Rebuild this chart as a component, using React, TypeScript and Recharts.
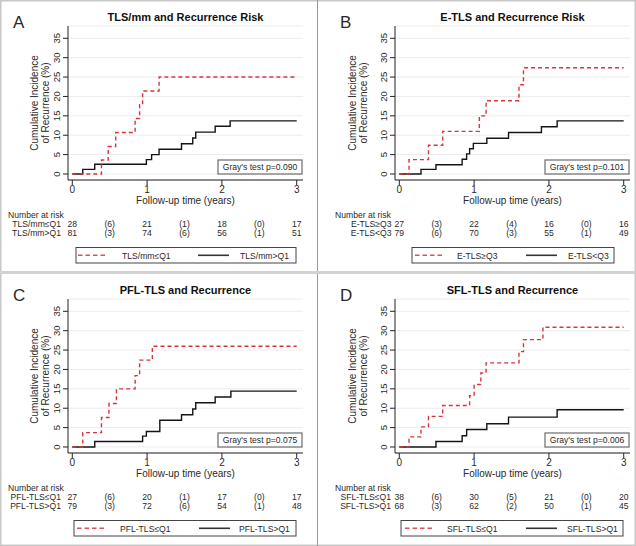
import React from 'react';
import { LineChart, Line, XAxis, YAxis, CartesianGrid } from 'recharts';

const FONT = '"Liberation Sans", Arial, Helvetica, sans-serif';
const X_TICKS = [0, 1, 2, 3];
const Y_TICKS = [0, 5, 10, 15, 20, 25, 30, 35];
const X_DOMAIN: [number, number] = [-0.0575, 3.084];
const Y_DOMAIN: [number, number] = [-1.55, 38.17];
const RISK_TIMES = [0, 0.5, 1, 1.5, 2, 2.5, 3];

// Panel A
const aTitle = 'TLS/mm and Recurrence Risk';
const aLowLabel = 'TLS/mm≤Q1';
const aHighLabel = 'TLS/mm>Q1';
const aLowT = [0, 0.39, 0.48, 0.58, 0.84, 0.9, 0.94, 1.16, 3];
const aLowCI = [0, 3.6, 7.1, 10.7, 14.3, 17.9, 21.4, 25.0, 25.0];
const aHighT = [0, 0.14, 0.3, 0.99, 1.06, 1.16, 1.46, 1.61, 1.65, 1.91, 2.11, 3];
const aHighCI = [0, 1.2, 2.5, 3.7, 5.0, 6.4, 7.8, 9.3, 10.8, 12.3, 13.7, 13.7];
const aLowRisk = ['28', '(6)', '21', '(1)', '18', '(0)', '17'];
const aHighRisk = ['81', '(3)', '74', '(6)', '56', '(1)', '51'];
const aP = "Gray's test p=0.090";

// Panel B
const bTitle = 'E-TLS and Recurrence Risk';
const bHighLabel = 'E-TLS≥Q3';
const bLowLabel = 'E-TLS<Q3';
const bHighT = [0, 0.13, 0.39, 0.58, 1.07, 1.16, 1.6, 1.66, 3];
const bHighCI = [0, 3.7, 7.4, 11.0, 15.0, 18.9, 23.0, 27.4, 27.4];
const bLowT = [0, 0.29, 0.49, 0.84, 0.9, 0.94, 0.99, 1.17, 1.46, 1.9, 2.11, 3];
const bLowCI = [0, 1.2, 2.4, 3.8, 5.2, 6.5, 7.9, 9.2, 10.7, 12.2, 13.7, 13.7];
const bHighRisk = ['27', '(3)', '22', '(4)', '16', '(0)', '16'];
const bLowRisk = ['79', '(6)', '70', '(3)', '55', '(1)', '49'];
const bP = "Gray's test p=0.101";

// Panel C
const cTitle = 'PFL-TLS and Recurrence';
const cLowLabel = 'PFL-TLS≤Q1';
const cHighLabel = 'PFL-TLS>Q1';
const cLowT = [0, 0.14, 0.39, 0.49, 0.59, 0.84, 0.9, 1.07, 3];
const cLowCI = [0, 3.7, 7.6, 11.2, 15.0, 18.4, 22.4, 26.0, 26.0];
const cHighT = [0, 0.3, 0.94, 0.99, 1.17, 1.46, 1.61, 1.65, 1.91, 2.12, 3];
const cHighCI = [0, 1.4, 2.8, 4.0, 6.9, 8.3, 9.8, 11.4, 12.9, 14.4, 14.4];
const cLowRisk = ['27', '(6)', '20', '(1)', '17', '(0)', '17'];
const cHighRisk = ['79', '(3)', '72', '(6)', '54', '(1)', '48'];
const cP = "Gray's test p=0.075";

// Panel D
const dTitle = 'SFL-TLS and Recurrence';
const dLowLabel = 'SFL-TLS≤Q1';
const dHighLabel = 'SFL-TLS>Q1';
const dLowT = [0, 0.13, 0.29, 0.39, 0.58, 0.94, 1.0, 1.09, 1.16, 1.6, 1.66, 1.92, 3];
const dLowCI = [0, 2.6, 5.2, 7.9, 10.7, 13.2, 16.1, 19.1, 21.7, 24.6, 27.7, 30.9, 30.9];
const dHighT = [0, 0.49, 0.84, 0.9, 1.17, 1.46, 2.11, 3];
const dHighCI = [0, 1.4, 2.9, 4.5, 6.0, 7.7, 9.6, 9.6];
const dLowRisk = ['38', '(6)', '30', '(5)', '21', '(0)', '20'];
const dHighRisk = ['68', '(3)', '62', '(2)', '50', '(1)', '45'];
const dP = "Gray's test p=0.006";

const RED = '#d7353f';
const BLACK = '#141414';
const TXT = '#2a2a2a';
const PW = 318;
const PH = 273;
const PLOT_W = 235;
const PLOT_TOP = 26;
const PLOT_BOTTOM = 180;
const SMALL = 8.6;

const zip = (t: number[], v: number[]) => t.map((x, i) => ({ t: x, ci: v[i] }));

const RotTick = (props: any) => {
  const { x, y, payload } = props;
  return (
    <text x={x} y={y} transform={`rotate(-90 ${x} ${y})`} textAnchor="middle" fontSize={9.5} fill={TXT} fontFamily={FONT}>
      {payload.value}
    </text>
  );
};

type PanelProps = {
  ox: number; oy: number; left: number; letter: string; letterX: number; title: string;
  redData: { t: number; ci: number }[]; blackData: { t: number; ci: number }[];
  redLabel: string; blackLabel: string; redRisk: string[]; blackRisk: string[]; p: string;
  nrX: number; labEnd: number;
  leg: { box: number; w: number; s1: number; t1: number; s2: number; t2: number };
};

const Panel = (pp: PanelProps) => {
  const right = pp.left + PLOT_W;
  const cx = (pp.left + right) / 2;
  const xs = (t: number) => pp.left + ((t - X_DOMAIN[0]) / (X_DOMAIN[1] - X_DOMAIN[0])) * PLOT_W;
  const yMid = (PLOT_TOP + PLOT_BOTTOM) / 2;
  return (
    <div style={{ position: 'absolute', left: pp.ox, top: pp.oy, width: PW, height: PH }}>
      <LineChart width={PW} height={PH} margin={{ top: PLOT_TOP, right: PW - right, bottom: PH - PLOT_BOTTOM - 30, left: pp.left - 60 }}>
        <CartesianGrid horizontal vertical={false} stroke="#ececec" strokeWidth={1} />
        <XAxis type="number" dataKey="t" domain={X_DOMAIN} ticks={X_TICKS} allowDataOverflow height={30} interval={0}
          tickSize={5} tickMargin={1} stroke="#222" tick={{ fontSize: 10, fill: TXT, fontFamily: FONT }} />
        <YAxis type="number" domain={Y_DOMAIN} ticks={Y_TICKS} allowDataOverflow width={60} interval={0}
          tickSize={5} tickMargin={3} stroke="#222" tick={<RotTick />} />
        <Line data={pp.blackData} dataKey="ci" type="stepAfter" stroke={BLACK} strokeWidth={1.4} dot={false} isAnimationActive={false} />
        <Line data={pp.redData} dataKey="ci" type="stepAfter" stroke={RED} strokeWidth={1.4} strokeDasharray="4 3" dot={false} isAnimationActive={false} />
      </LineChart>
      <svg width={PW} height={PH} style={{ position: 'absolute', left: 0, top: 0, pointerEvents: 'none' }} fontFamily={FONT}>
        <text x={pp.letterX} y={27.5} fontSize={17} fill={TXT}>{pp.letter}</text>
        <text x={cx} y={20.5} textAnchor="middle" fontSize={11} fontWeight="bold" fill="#111">{pp.title}</text>
        <text x={38} y={yMid} transform={`rotate(-90 38 ${yMid})`} textAnchor="middle" fontSize={10} fill={TXT}>Cumulative Incidence</text>
        <text x={48.5} y={yMid} transform={`rotate(-90 48.5 ${yMid})`} textAnchor="middle" fontSize={10} fill={TXT}>of Recurrence (%)</text>
        <text x={cx} y={203.5} textAnchor="middle" fontSize={10} fill={TXT}>Follow-up time (years)</text>
        <rect x={right - 85} y={160} width={84} height={14} fill="#fff" stroke="#777" strokeWidth={1.3} />
        <text x={right - 43} y={170.3} textAnchor="middle" fontSize={SMALL} fill={TXT}>{pp.p}</text>
        <text x={pp.nrX} y={218} fontSize={SMALL} fill={TXT}>Number at risk</text>
        <text x={pp.labEnd} y={227} textAnchor="end" fontSize={SMALL} fill={TXT}>{pp.redLabel}</text>
        <text x={pp.labEnd} y={236} textAnchor="end" fontSize={SMALL} fill={TXT}>{pp.blackLabel}</text>
        {RISK_TIMES.map((t, i) => (
          <text key={'r' + i} x={xs(t)} y={227} textAnchor="middle" fontSize={SMALL} fill={TXT}>{pp.redRisk[i]}</text>
        ))}
        {RISK_TIMES.map((t, i) => (
          <text key={'b' + i} x={xs(t)} y={236} textAnchor="middle" fontSize={SMALL} fill={TXT}>{pp.blackRisk[i]}</text>
        ))}
        <rect x={pp.leg.box} y={247.5} width={pp.leg.w} height={15.5} fill="#fff" stroke="#444" strokeWidth={1} />
        <line x1={pp.leg.s1} x2={pp.leg.s1 + 29} y1={255.3} y2={255.3} stroke={RED} strokeWidth={1.6} strokeDasharray="4.5 3" opacity={0.85} />
        <text x={pp.leg.t1} y={258.5} fontSize={SMALL} fill={TXT}>{pp.redLabel}</text>
        <line x1={pp.leg.s2} x2={pp.leg.s2 + 31} y1={255.3} y2={255.3} stroke="#333" strokeWidth={1.6} />
        <text x={pp.leg.t2} y={258.5} fontSize={SMALL} fill={TXT}>{pp.blackLabel}</text>
      </svg>
    </div>
  );
};

export default function App() {
  return (
    <div style={{ position: 'absolute', left: 0, top: 0, width: 636, height: 546, background: '#fff', overflow: 'hidden' }}>
      <Panel ox={0} oy={0} left={68} letter="A" letterX={13} title={aTitle}
        redData={zip(aLowT, aLowCI)} blackData={zip(aHighT, aHighCI)} redLabel={aLowLabel} blackLabel={aHighLabel}
        redRisk={aLowRisk} blackRisk={aHighRisk} p={aP} nrX={8} labEnd={61}
        leg={{ box: 76, w: 220, s1: 78, t1: 122, s2: 198, t2: 240 }} />
      <Panel ox={318} oy={0} left={77} letter="B" letterX={22} title={bTitle}
        redData={zip(bHighT, bHighCI)} blackData={zip(bLowT, bLowCI)} redLabel={bHighLabel} blackLabel={bLowLabel}
        redRisk={bHighRisk} blackRisk={bLowRisk} p={bP} nrX={17} labEnd={73.5}
        leg={{ box: 94, w: 202, s1: 97, t1: 139, s2: 208, t2: 250 }} />
      <Panel ox={0} oy={273} left={68} letter="C" letterX={13} title={cTitle}
        redData={zip(cLowT, cLowCI)} blackData={zip(cHighT, cHighCI)} redLabel={cLowLabel} blackLabel={cHighLabel}
        redRisk={cLowRisk} blackRisk={cHighRisk} p={cP} nrX={8} labEnd={61}
        leg={{ box: 74, w: 222, s1: 77, t1: 120, s2: 199, t2: 239 }} />
      <Panel ox={318} oy={273} left={77} letter="D" letterX={22} title={dTitle}
        redData={zip(dLowT, dLowCI)} blackData={zip(dHighT, dHighCI)} redLabel={dLowLabel} blackLabel={dHighLabel}
        redRisk={dLowRisk} blackRisk={dHighRisk} p={dP} nrX={17} labEnd={73}
        leg={{ box: 83, w: 222, s1: 87, t1: 129, s2: 208, t2: 249 }} />
      <svg width={636} height={546} style={{ position: 'absolute', left: 0, top: 0, pointerEvents: 'none' }}>
        <rect x={0.75} y={0.75} width={634.5} height={544.5} fill="none" stroke="#c8c8c8" strokeWidth={1.5} />
        <line x1={317.5} x2={317.5} y1={0} y2={546} stroke="#9a9a9a" strokeWidth={1} />
        <line x1={0} x2={636} y1={272.5} y2={272.5} stroke="#d2d2d2" strokeWidth={3} />
      </svg>
    </div>
  );
}
